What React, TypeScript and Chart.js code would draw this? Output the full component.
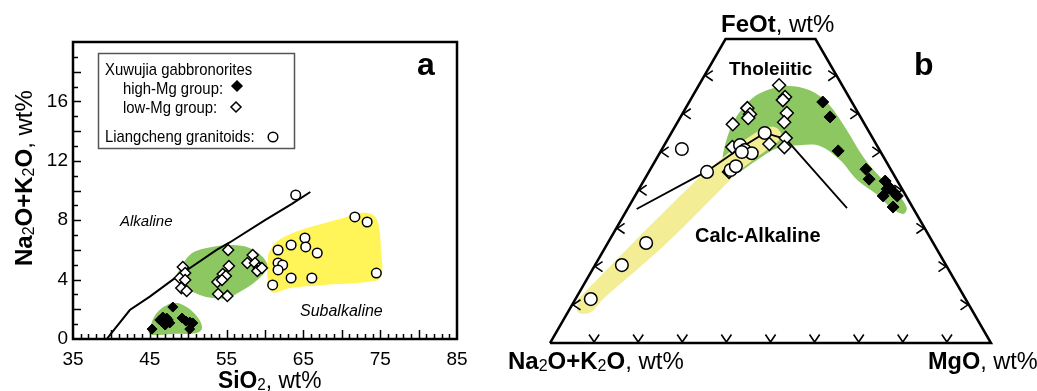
import React, { useEffect, useRef } from "react";
import { Chart, registerables } from "chart.js";

Chart.register(...registerables);

const FONT = '"Liberation Sans", Arial, sans-serif';
const GREEN = "rgb(141, 199, 98)";
const YELLOW_A = "rgb(255, 244, 88)";
const YELLOW_B = "rgb(243, 237, 150)";

// ---------------- Panel a : SiO2 vs Na2O+K2O ----------------
const tasXTicks = [35, 45, 55, 65, 75, 85];
const tasYTicks = [0, 4, 8, 12, 16];

// Alkaline / Subalkaline dividing line
const divideSiO2 = [39.4, 40, 42.4, 45, 48, 50, 53.7, 55.4, 60, 63.5, 65.9];
const divideAlk = [0, 0.4, 1.95, 2.85, 4, 4.7, 6, 6.5, 8, 9.1, 9.9];

// Xuwujia gabbronorites, high-Mg group
const highMgSiO2 = [45.3, 48.0, 46.3, 46.7, 47.2, 47.0, 47.6, 47.4, 49.2, 49.7, 50.2, 50.6, 50.2, 46.6];
const highMgAlk = [0.67, 2.15, 1.28, 1.48, 1.41, 0.94, 1.08, 1.28, 1.41, 1.21, 1.14, 1.08, 0.67, 1.14];

// Xuwujia gabbronorites, low-Mg group
const lowMgSiO2 = [49.3, 49.6, 48.9, 49.6, 49.1, 49.8, 55.2, 55.3, 54.5, 54.9, 53.8, 54.4, 53.9, 55.1, 57.7, 58.4, 58.7, 59.2, 59.0, 59.6];
const lowMgAlk = [4.85, 4.44, 4.11, 3.97, 3.43, 3.23, 5.99, 4.92, 4.38, 4.24, 3.84, 3.97, 3.03, 2.9, 5.12, 5.66, 5.12, 4.78, 4.58, 4.78];

// Liangcheng granitoids
const granSiO2 = [64.0, 71.7, 73.3, 65.2, 63.4, 65.3, 66.8, 61.7, 61.7, 62.3, 61.7, 63.4, 66.1, 61.0, 74.5];
const granAlk = [9.7, 8.22, 7.88, 6.8, 6.33, 6.2, 5.79, 5.99, 5.12, 4.98, 4.65, 4.11, 4.11, 3.64, 4.44];

// shaded fields
const fieldHighSiO2 = [44.8, 45.9, 48.0, 49.8, 51.3, 51.8, 51.1, 48.0, 45.3];
const fieldHighAlk = [0.47, 1.75, 2.42, 2.15, 1.41, 0.74, 0.4, 0.34, 0.27];
const fieldLowSiO2 = [48.3, 50.2, 52.4, 55.8, 58.0, 59.7, 60.3, 59.0, 56.7, 55.1, 53.2, 51.5, 49.8];
const fieldLowAlk = [4.18, 5.66, 6.13, 6.33, 6.13, 5.52, 4.85, 3.97, 3.16, 2.76, 2.76, 2.96, 3.43];
const fieldGranSiO2 = [60.4, 61.3, 63.3, 65.9, 70.2, 72.4, 74.1, 74.8, 75.1, 75.1, 73.3, 67.6, 63.3, 60.9, 60.3];
const fieldGranAlk = [5.66, 6.46, 7.07, 7.54, 8.15, 8.48, 8.35, 7.68, 5.99, 4.18, 3.84, 3.64, 3.43, 3.16, 4.3];

// ---------------- Panel b : AFM ternary (A = Na2O+K2O, F = FeOt, M = MgO) ----------------
const afmFMax = 79.6; // FeOt apex truncated by title underline

const frameA = [100, 0, 0, 20.4, 100];
const frameF = [0, 0, 79.6, 79.6, 0];
const frameM = [0, 100, 20.4, 0, 0];

const caLineA = [62.8, 41.9, 31.4, 23.8, 19.8, 15.0];
const caLineF = [35.1, 45.0, 51.0, 55.0, 53.4, 35.3];
const caLineM = [2.1, 13.1, 17.6, 21.2, 26.8, 49.7];

const afmGranA = [85.0, 73.5, 65.1, 44.7, 42.0, 36.4, 34.7, 31.0, 30.6, 29.4, 31.5, 23.8];
const afmGranF = [11.5, 20.4, 26.2, 50.8, 44.8, 45.3, 46.3, 51.8, 50.5, 49.7, 50.0, 55.0];
const afmGranM = [3.5, 6.1, 8.7, 4.5, 13.2, 18.3, 19.0, 17.2, 18.9, 20.9, 18.5, 21.2];

const afmLowA = [14.3, 14.5, 15.4, 16.2, 18.0, 19.7, 21.2, 24.2, 24.5, 24.7, 25.6, 29.9, 33.0, 37.0];
const afmLowF = [67.5, 64.4, 63.6, 60.2, 57.8, 53.7, 51.3, 52.1, 61.5, 59.9, 58.9, 57.3, 51.3, 44.8];
const afmLowM = [18.2, 21.1, 21.0, 23.6, 24.2, 26.6, 27.5, 23.7, 14.0, 15.4, 15.5, 12.8, 15.7, 18.2];

const afmHighA = [6.6, 6.9, 9.5, 5.6, 6.2, 2.8, 2.6, 2.3, 5.2, 2.0, 4.4, 3.4];
const afmHighF = [63.1, 59.2, 50.3, 45.5, 42.9, 42.4, 40.6, 39.5, 38.5, 38.5, 35.6, 40.3];
const afmHighM = [30.3, 33.9, 40.2, 48.9, 50.9, 54.8, 56.8, 58.2, 56.3, 59.5, 60.0, 56.3];

const afmGreenA = [37.3, 35.0, 30.2, 24.6, 19.7, 13.0, 8.0, 5.6, 4.8, 4.6, 3.4, 1.7, 1.4, 3.0, 5.1, 6.4, 9.0, 10.3, 13.0, 17.4, 23.0, 29.1, 34.6, 37.8];
const afmGreenF = [47.4, 51.0, 57.1, 62.3, 65.4, 67.3, 66.2, 62.8, 55.8, 48.7, 43.4, 39.2, 35.4, 33.8, 35.6, 38.8, 42.7, 47.9, 51.6, 51.8, 51.0, 47.9, 44.8, 43.7];
const afmGreenM = [15.3, 14.0, 12.7, 13.1, 14.9, 19.7, 25.8, 31.6, 39.4, 46.7, 53.2, 59.1, 63.2, 63.2, 59.3, 54.8, 48.3, 41.8, 35.4, 30.8, 26.0, 23.0, 20.6, 18.5];

const afmYellowA = [87.9, 68.1, 45.4, 37.5, 29.2, 23.1, 20.4, 20.6, 27.8, 34.2, 37.8, 60.4, 82.2, 87.0, 89.6];
const afmYellowF = [11.5, 26.2, 42.7, 47.9, 53.2, 56.3, 56.3, 53.9, 49.2, 45.3, 42.7, 26.2, 11.5, 7.9, 8.1];
const afmYellowM = [0.6, 5.7, 11.9, 14.6, 17.6, 20.6, 23.3, 25.5, 23.0, 20.5, 19.5, 13.4, 6.3, 5.1, 2.3];

const afmTickSteps = [10, 20, 30, 40, 50, 60, 70, 80, 90];

// ---------------- helpers ----------------
type Pt = { x: number; y: number };
const pts = (xs: number[], ys: number[]): Pt[] => xs.map((x, i) => ({ x, y: ys[i] }));
const closed = (p: Pt[]): Pt[] => [...p, p[0]];
const tern = (a: number, f: number, m: number): Pt => {
  const s = a + f + m;
  const ff = (f / s) * 100;
  const mm = (m / s) * 100;
  return { x: mm + ff / 2, y: ff };
};
const ternPts = (A: number[], F: number[], M: number[]): Pt[] => A.map((a, i) => tern(a, F[i], M[i]));

type Part = { t: string; bold?: boolean; italic?: boolean; sub?: boolean };
const fontStr = (size: number, bold?: boolean, italic?: boolean) =>
  `${italic ? "italic " : ""}${bold ? "bold " : ""}${size}px ${FONT}`;

function drawParts(ctx: CanvasRenderingContext2D, x: number, y: number, parts: Part[], size: number, sx = 1) {
  ctx.save();
  ctx.translate(x, y);
  ctx.scale(sx, 1);
  let cx = 0;
  ctx.textAlign = "left";
  ctx.textBaseline = "alphabetic";
  for (const p of parts) {
    const s = p.sub ? Math.round(size * 0.66) : size;
    ctx.font = fontStr(s, p.bold, p.italic);
    ctx.fillText(p.t, cx, p.sub ? size * 0.08 : 0);
    cx += ctx.measureText(p.t).width;
  }
  ctx.restore();
  return cx * sx;
}

const alkParts = (): Part[] => [
  { t: "Na", bold: true },
  { t: "2", sub: true },
  { t: "O+K", bold: true },
  { t: "2", sub: true },
  { t: "O", bold: true },
  { t: ", wt%" },
];

function diamond(ctx: CanvasRenderingContext2D, x: number, y: number, r: number, fill: string) {
  ctx.beginPath();
  ctx.moveTo(x, y - r);
  ctx.lineTo(x + r, y);
  ctx.lineTo(x, y + r);
  ctx.lineTo(x - r, y);
  ctx.closePath();
  ctx.fillStyle = fill;
  ctx.fill();
  ctx.lineWidth = 1.5;
  ctx.strokeStyle = "#000";
  ctx.stroke();
}

const fieldDs = (label: string, data: Pt[], color: string) => ({
  label,
  data: closed(data),
  borderColor: "rgba(0,0,0,0)",
  borderWidth: 0,
  backgroundColor: color,
  fill: "shape",
  pointRadius: 0,
  tension: 0.35,
  order: 10,
  clip: false,
});

// ---------------- panel a ----------------
const tasDecor = {
  id: "tasDecor",
  afterDraw(chart: any) {
    const ctx: CanvasRenderingContext2D = chart.ctx;
    const { left, right, top, bottom } = chart.chartArea;
    const xs = chart.scales.x;
    const ys = chart.scales.y;
    ctx.save();
    ctx.strokeStyle = "#000";
    ctx.lineWidth = 1.5;
    for (let v = 36; v < 85; v++) {
      const px = Math.round(xs.getPixelForValue(v)) + 0.5;
      const len = v % 5 === 0 ? 9 : 5;
      ctx.beginPath();
      ctx.moveTo(px, bottom);
      ctx.lineTo(px, bottom - len);
      ctx.stroke();
    }
    for (let v = 1; v < 20; v++) {
      const py = Math.round(ys.getPixelForValue(v)) + 0.5;
      const len = v % 2 === 0 ? 8 : 5;
      ctx.beginPath();
      ctx.moveTo(left, py);
      ctx.lineTo(left + len, py);
      ctx.stroke();
    }
    ctx.lineWidth = 2.5;
    ctx.strokeRect(left, top, right - left, bottom - top);

    ctx.fillStyle = "#000";
    ctx.font = fontStr(32, true);
    ctx.fillText("a", 417, 75);
    drawParts(ctx, 120, 226, [{ t: "Alkaline", italic: true }], 15);
    drawParts(ctx, 300, 316, [{ t: "Subalkaline", italic: true }], 16);
    drawParts(ctx, 218, 388, [{ t: "SiO", bold: true }, { t: "2", sub: true }, { t: ", wt%" }], 24, 0.95);
    ctx.save();
    ctx.translate(32, 266);
    ctx.rotate(-Math.PI / 2);
    drawParts(ctx, 0, 0, alkParts(), 24);
    ctx.restore();

    // legend box
    ctx.strokeStyle = "#555";
    ctx.lineWidth = 1.5;
    ctx.strokeRect(98.5, 53.5, 196, 95);
    ctx.fillStyle = "#000";
    const sq = 0.875;
    drawParts(ctx, 105, 75, [{ t: "Xuwujia gabbronorites" }], 17, sq);
    drawParts(ctx, 123, 94, [{ t: "high-Mg group:" }], 17, sq);
    drawParts(ctx, 123, 113, [{ t: "low-Mg group:" }], 17, sq);
    drawParts(ctx, 105, 142, [{ t: "Liangcheng granitoids:" }], 17, sq);
    diamond(ctx, 237, 86, 5, "#000");
    diamond(ctx, 236, 107, 5, "#fff");
    ctx.beginPath();
    ctx.arc(273, 137, 4.8, 0, Math.PI * 2);
    ctx.fillStyle = "#fff";
    ctx.fill();
    ctx.strokeStyle = "#000";
    ctx.lineWidth = 1.5;
    ctx.stroke();
    ctx.restore();
  },
};

function makeTas(canvas: HTMLCanvasElement) {
  return new Chart(canvas, {
    type: "line",
    data: {
      datasets: [
        fieldDs("high-Mg field", pts(fieldHighSiO2, fieldHighAlk), GREEN),
        fieldDs("low-Mg field", pts(fieldLowSiO2, fieldLowAlk), GREEN),
        fieldDs("granitoid field", pts(fieldGranSiO2, fieldGranAlk), YELLOW_A),
        {
          label: "Alkaline / Subalkaline",
          data: pts(divideSiO2, divideAlk),
          borderColor: "#000",
          borderWidth: 2,
          fill: false,
          pointRadius: 0,
          tension: 0,
          order: 5,
        },
        {
          label: "high-Mg group",
          data: pts(highMgSiO2, highMgAlk),
          showLine: false,
          pointStyle: "rectRot",
          pointRadius: 5,
          pointBackgroundColor: "#000",
          pointBorderColor: "#000",
          pointBorderWidth: 1,
          order: 3,
          clip: false,
        },
        {
          label: "low-Mg group",
          data: pts(lowMgSiO2, lowMgAlk),
          showLine: false,
          pointStyle: "rectRot",
          pointRadius: 5.5,
          pointBackgroundColor: "#fff",
          pointBorderColor: "#000",
          pointBorderWidth: 1.5,
          order: 2,
          clip: false,
        },
        {
          label: "Liangcheng granitoids",
          data: pts(granSiO2, granAlk),
          showLine: false,
          pointStyle: "circle",
          pointRadius: 4.8,
          pointBackgroundColor: "#fff",
          pointBorderColor: "#000",
          pointBorderWidth: 1.5,
          order: 1,
          clip: false,
        },
      ] as any,
    },
    options: {
      responsive: false,
      animation: false,
      devicePixelRatio: 1,
      events: [],
      layout: { padding: { left: 0, right: 33, top: 42, bottom: 0 } },
      plugins: { legend: { display: false }, tooltip: { enabled: false } },
      scales: {
        x: {
          type: "linear",
          min: 35,
          max: 85,
          grid: { display: false, drawTicks: false },
          border: { display: false },
          ticks: { font: { size: 19, family: FONT }, color: "#000", padding: 9, maxRotation: 0, autoSkip: false },
          afterBuildTicks: (s: any) => {
            s.ticks = tasXTicks.map((v) => ({ value: v }));
          },
          afterFit: (s: any) => {
            s.height = 52;
          },
        },
        y: {
          type: "linear",
          min: 0,
          max: 20,
          grid: { display: false, drawTicks: false },
          border: { display: false },
          ticks: { font: { size: 19, family: FONT }, color: "#000", padding: 5, autoSkip: false },
          afterBuildTicks: (s: any) => {
            s.ticks = tasYTicks.map((v) => ({ value: v }));
          },
          afterFit: (s: any) => {
            s.width = 73;
          },
        },
      },
    } as any,
    plugins: [tasDecor],
  });
}

// ---------------- panel b ----------------
function chevron(ctx: CanvasRenderingContext2D, x: number, y: number, dir: number) {
  const len = 9;
  const spread = 0.6;
  ctx.beginPath();
  ctx.moveTo(x + len * Math.cos(dir - spread), y + len * Math.sin(dir - spread));
  ctx.lineTo(x, y);
  ctx.lineTo(x + len * Math.cos(dir + spread), y + len * Math.sin(dir + spread));
  ctx.stroke();
}

const afmDecor = {
  id: "afmDecor",
  afterDatasetsDraw(chart: any) {
    const ctx: CanvasRenderingContext2D = chart.ctx;
    const xs = chart.scales.x;
    const ys = chart.scales.y;
    const px = (p: Pt) => [xs.getPixelForValue(p.x), ys.getPixelForValue(p.y)];
    ctx.save();
    ctx.strokeStyle = "#000";
    ctx.lineWidth = 1.6;
    for (const s of afmTickSteps) {
      const [bx, by] = px(tern(100 - s, 0, s));
      chevron(ctx, bx, by - 1, -Math.PI / 2);
      if (s < afmFMax) {
        const [lx, ly] = px(tern(100 - s, s, 0));
        chevron(ctx, lx + 1, ly, 0);
        const [rx, ry] = px(tern(0, s, 100 - s));
        chevron(ctx, rx - 1, ry, Math.PI);
      }
    }
    ctx.restore();
  },
  afterDraw(chart: any) {
    const ctx: CanvasRenderingContext2D = chart.ctx;
    ctx.save();
    ctx.fillStyle = "#000";
    drawParts(ctx, 231, 32, [{ t: "FeOt", bold: true }, { t: ", wt%" }], 24);
    drawParts(ctx, 18, 369, alkParts(), 24);
    drawParts(ctx, 438, 369, [{ t: "MgO", bold: true }, { t: ", wt%" }], 24, 0.98);
    drawParts(ctx, 239, 75, [{ t: "Tholeiitic", bold: true }], 19);
    drawParts(ctx, 205, 242, [{ t: "Calc-Alkaline", bold: true }], 20);
    ctx.font = fontStr(32, true);
    ctx.fillText("b", 424, 75);
    ctx.restore();
  },
};

function makeAfm(canvas: HTMLCanvasElement) {
  return new Chart(canvas, {
    type: "line",
    data: {
      datasets: [
        fieldDs("tholeiitic field", ternPts(afmGreenA, afmGreenF, afmGreenM), GREEN),
        { ...fieldDs("calc-alkaline field", ternPts(afmYellowA, afmYellowF, afmYellowM), YELLOW_B), order: 9 },
        {
          label: "triangle",
          data: ternPts(frameA, frameF, frameM),
          borderColor: "#000",
          borderWidth: 2.5,
          fill: false,
          pointRadius: 0,
          tension: 0,
          order: 6,
          clip: false,
        },
        {
          label: "Tholeiitic / Calc-Alkaline",
          data: ternPts(caLineA, caLineF, caLineM),
          borderColor: "#000",
          borderWidth: 1.8,
          fill: false,
          pointRadius: 0,
          tension: 0,
          order: 5,
        },
        {
          label: "high-Mg group",
          data: ternPts(afmHighA, afmHighF, afmHighM),
          showLine: false,
          pointStyle: "rectRot",
          pointRadius: 6,
          pointBackgroundColor: "#000",
          pointBorderColor: "#000",
          pointBorderWidth: 1,
          order: 3,
          clip: false,
        },
        {
          label: "low-Mg group",
          data: ternPts(afmLowA, afmLowF, afmLowM),
          showLine: false,
          pointStyle: "rectRot",
          pointRadius: 6.5,
          pointBackgroundColor: "#fff",
          pointBorderColor: "#000",
          pointBorderWidth: 1.5,
          order: 2,
          clip: false,
        },
        {
          label: "Liangcheng granitoids",
          data: ternPts(afmGranA, afmGranF, afmGranM),
          showLine: false,
          pointStyle: "circle",
          pointRadius: 6.3,
          pointBackgroundColor: "#fff",
          pointBorderColor: "#000",
          pointBorderWidth: 1.5,
          order: 1,
          clip: false,
        },
      ] as any,
    },
    options: {
      responsive: false,
      animation: false,
      devicePixelRatio: 1,
      events: [],
      layout: { padding: { left: 60, right: 46, top: 39, bottom: 48 } },
      plugins: { legend: { display: false }, tooltip: { enabled: false } },
      scales: {
        x: { type: "linear", min: 0, max: 100, display: false },
        y: { type: "linear", min: 0, max: afmFMax, display: false },
      },
    } as any,
    plugins: [afmDecor],
  });
}

export default function App() {
  const refA = useRef<HTMLCanvasElement>(null);
  const refB = useRef<HTMLCanvasElement>(null);
  useEffect(() => {
    const ca = makeTas(refA.current!);
    const cb = makeAfm(refB.current!);
    return () => {
      ca.destroy();
      cb.destroy();
    };
  }, []);
  return (
    <div style={{ position: "fixed", left: 0, top: 0, width: 1037, height: 391, background: "#fff" }}>
      <canvas ref={refA} width={490} height={391} style={{ position: "absolute", left: 0, top: 0 }} />
      <canvas ref={refB} width={547} height={391} style={{ position: "absolute", left: 490, top: 0 }} />
    </div>
  );
}
